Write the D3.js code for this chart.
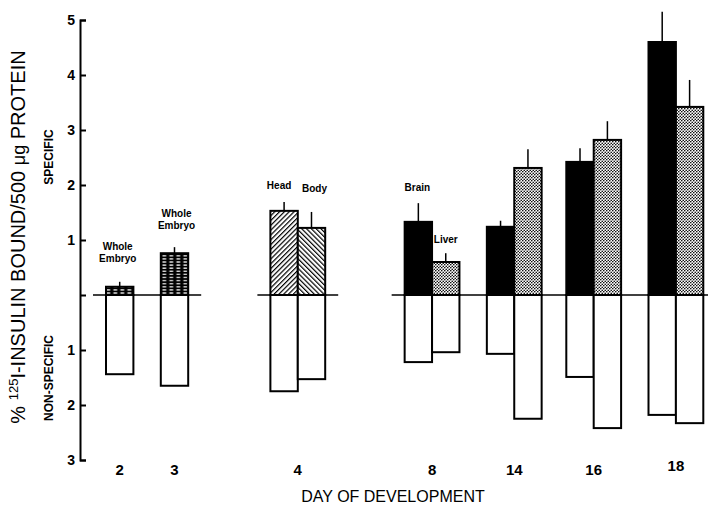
<!DOCTYPE html>
<html><head><meta charset="utf-8">
<script src="https://cdn.jsdelivr.net/npm/d3@7"></script>
<style>
html,body{margin:0;padding:0;background:#fff;}
svg{display:block;font-family:"Liberation Sans",Arial,Helvetica,sans-serif;}
</style></head>
<body><svg id="c" width="709" height="506"></svg>
<script>
// ---------------- DATA ----------------
const days = ["2","3","4","8","14","16","18"];
const barDay    = ["2","3","4","4","8","8","14","14","16","16","18","18"];
const barTissue = ["Whole Embryo","Whole Embryo","Head","Body","Brain","Liver","Brain","Liver","Brain","Liver","Brain","Liver"];
const specific       = [0.15,0.76,1.53,1.22,1.33,0.60,1.24,2.31,2.42,2.82,4.60,3.42];
const specificErrTop = [0.24,0.87,1.69,1.51,1.67,0.76,1.35,2.65,2.67,3.16,5.15,3.91];
const nonSpecific    = [1.44,1.65,1.75,1.53,1.22,1.04,1.07,2.25,1.49,2.42,2.18,2.33];
const yTicks = [-3,-2,-1,0,1,2,3,4,5];
const yDomain = [-3,5];

// ---------------- LAYOUT ----------------
const groupSlot = {"2":0.5,"3":2.5,"4":7,"8":11.9,"14":14.9,"16":17.8,"18":20.8};
const clusters = [["2","3"],["4"],["8","14","16","18"]];
const annotations = [
  {bar:0, lines:["Whole","Embryo"], dx:-2, dy:-20},
  {bar:1, lines:["Whole","Embryo"], dx:2, dy:-18},
  {bar:2, lines:["Head"], dx:-5, dy:-13},
  {bar:3, lines:["Body"], dx:3, dy:-20},
  {bar:4, lines:["Brain"], dx:-1, dy:-12},
  {bar:5, lines:["Liver"], dx:0, dy:-10}
];

const svg = d3.select("#c");
const x = d3.scaleLinear().domain([0,21.8]).range([106,703.3]);
const y = d3.scaleLinear().domain(yDomain).range([460,20]);
const bw = x(1)-x(0);

// patterns
const defs = svg.append("defs");
const pd = defs.append("pattern").attr("id","dash").attr("patternUnits","userSpaceOnUse")
  .attr("width",7).attr("height",3.1).attr("x",x(2));
pd.append("rect").attr("width",7).attr("height",3.1).attr("fill","#000");
pd.append("rect").attr("x",1.6).attr("y",1).attr("width",3.8).attr("height",1.2).attr("fill","#fff");
function hatch(id, ang){
  const p = defs.append("pattern").attr("id",id).attr("patternUnits","userSpaceOnUse")
    .attr("width",3.4).attr("height",3.4).attr("patternTransform","rotate("+ang+")");
  p.append("rect").attr("width",3.4).attr("height",3.4).attr("fill","#fff");
  p.append("rect").attr("x",0).attr("width",1.2).attr("height",3.4).attr("fill","#000");
}
hatch("hatchR",45); hatch("hatchL",-45);
const ps = defs.append("pattern").attr("id","stip").attr("patternUnits","userSpaceOnUse")
  .attr("width",3).attr("height",3);
ps.append("rect").attr("width",3).attr("height",3).attr("fill","#fff");
ps.append("circle").attr("cx",0.75).attr("cy",0.75).attr("r",0.8).attr("fill","#000");
ps.append("circle").attr("cx",2.25).attr("cy",2.25).attr("r",0.8).attr("fill","#000");
const fillFor = {"Whole Embryo":"url(#dash)","Head":"url(#hatchR)","Body":"url(#hatchL)","Brain":"#000","Liver":"url(#stip)"};

// bar positions
const bars = barDay.map((d,i)=>{
  const members = barDay.map((dd,j)=>dd===d?j:-1).filter(j=>j>=0);
  const k = members.indexOf(i);
  const left = groupSlot[d] - members.length/2 + k;
  return {i, day:d, tissue:barTissue[i], left, s:specific[i], e:specificErrTop[i], n:nonSpecific[i]};
});

// zero line segments
clusters.forEach(cl=>{
  const bs = bars.filter(b=>cl.includes(b.day));
  const x0 = d3.min(bs,b=>x(b.left))-13;
  const x1 = Math.min(708, d3.max(bs,b=>x(b.left+1))+13);
  svg.append("line").attr("x1",x0).attr("x2",x1).attr("y1",y(0)).attr("y2",y(0))
    .attr("stroke","#000").attr("stroke-width",1.6);
});

// error bars
svg.selectAll(".err").data(bars).enter().append("line")
  .attr("x1",b=>x(b.left+0.5)).attr("x2",b=>x(b.left+0.5))
  .attr("y1",b=>y(b.s)).attr("y2",b=>y(b.e))
  .attr("stroke","#000").attr("stroke-width",1.5);

// non-specific bars
svg.selectAll(".ns").data(bars).enter().append("rect")
  .attr("x",b=>x(b.left)).attr("width",bw)
  .attr("y",y(0)).attr("height",b=>y(-b.n)-y(0))
  .attr("fill","#fff").attr("stroke","#000").attr("stroke-width",2);
// specific bars
svg.selectAll(".sp").data(bars).enter().append("rect")
  .attr("x",b=>x(b.left)).attr("width",bw)
  .attr("y",b=>y(b.s)).attr("height",b=>y(0)-y(b.s))
  .attr("fill",b=>fillFor[b.tissue]).attr("stroke","#000").attr("stroke-width",2);

// y axis
const ax = svg.append("g").attr("transform","translate(80,0)")
  .call(d3.axisLeft(y).tickValues(yTicks).tickSizeInner(-6).tickSizeOuter(-6).tickPadding(5)
    .tickFormat(v=>v===0?"":String(Math.abs(v))));
ax.select(".domain").attr("stroke-width",2);
ax.selectAll(".tick line").attr("stroke-width",2);
ax.selectAll(".tick text").attr("font-size",14).attr("font-weight","bold")
  .attr("font-family","Liberation Sans, Arial, sans-serif").attr("fill","#000");

// x labels
svg.selectAll(".xl").data(days).enter().append("text")
  .attr("x",d=>x(groupSlot[d])).attr("y",d=>d==="18"?471:475)
  .attr("text-anchor","middle").attr("font-size",15).attr("font-weight","bold").text(d=>d);
svg.append("text").attr("x",393).attr("y",502).attr("text-anchor","middle")
  .attr("font-size",16).text("DAY OF DEVELOPMENT");

// y titles
const yt = svg.append("text").attr("transform","translate(25,237) rotate(-90)")
  .attr("text-anchor","middle").attr("font-size",20);
yt.append("tspan").text("% ");
yt.append("tspan").attr("font-size",13).attr("dy",-7).text("125");
yt.append("tspan").attr("dy",7).text("I-INSULIN BOUND/500 ");
yt.append("tspan").attr("font-size",18).text("\u03BCg");
yt.append("tspan").text(" PROTEIN");
svg.append("text").attr("transform","translate(53,157) rotate(-90)")
  .attr("text-anchor","middle").attr("font-size",12).attr("font-weight","bold").text("SPECIFIC");
svg.append("text").attr("transform","translate(53,378) rotate(-90)")
  .attr("text-anchor","middle").attr("font-size",12).attr("font-weight","bold").text("NON-SPECIFIC");

// annotations
annotations.forEach(a=>{
  const b = bars[a.bar];
  const n = a.lines.length;
  a.lines.forEach((t,k)=>{
    svg.append("text").attr("x",x(b.left+0.5)+a.dx).attr("y",y(b.e)+a.dy-(n-1-k)*12)
      .attr("text-anchor","middle").attr("font-size",10).attr("font-weight","bold").text(t);
  });
});
</script></body></html>
